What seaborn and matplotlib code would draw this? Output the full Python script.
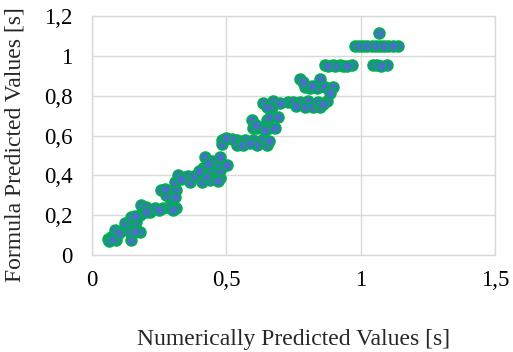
import matplotlib
matplotlib.use("Agg")
import matplotlib.pyplot as plt
from matplotlib.ticker import FuncFormatter
import seaborn as sns
import pandas as pd

# Numerically predicted times [s] and the matching formula predictions [s]
numerical = [
    0.060, 0.071, 0.089, 0.065, 0.080, 0.145,
    0.086, 0.115, 0.141, 0.179, 0.100, 0.160,
    0.123, 0.164, 0.145,
    0.145, 0.179, 0.160,
    0.182, 0.200, 0.216, 0.234, 0.264, 0.290, 0.313, 0.250, 0.300, 0.200,
    0.257, 0.313, 0.290, 0.309, 0.275, 0.270,
    0.309, 0.320, 0.346, 0.365, 0.357, 0.400, 0.447, 0.476, 0.365, 0.409,
    0.439, 0.330, 0.380, 0.425, 0.470,
    0.476, 0.413, 0.439, 0.469, 0.502, 0.420, 0.476, 0.445, 0.430, 0.400,
    0.484, 0.484, 0.540, 0.569, 0.599, 0.633, 0.540, 0.562, 0.614, 0.651,
    0.520, 0.660, 0.590, 0.500,
    0.595, 0.651, 0.599, 0.633, 0.662, 0.692, 0.615, 0.660, 0.680, 0.645, 0.610,
    0.636, 0.674, 0.729, 0.774, 0.804, 0.875, 0.670, 0.793, 0.822, 0.849,
    0.700, 0.750, 0.840, 0.650, 0.760, 0.860,
    0.774, 0.849, 0.793, 0.811, 0.837, 0.867, 0.897, 0.886, 0.820, 0.785,
    0.867, 0.897, 0.923, 0.934, 0.968, 0.904, 0.880, 0.950, 1.046, 1.061,
    1.098, 1.075,
    0.979, 1.009, 1.042, 1.072, 1.100, 1.139, 0.995, 1.025, 1.058, 1.088, 1.120,
    1.068,
]
formula = [
    0.080, 0.090, 0.075, 0.072, 0.082, 0.075,
    0.126, 0.126, 0.115, 0.115, 0.110, 0.120,
    0.160, 0.166, 0.170,
    0.190, 0.200, 0.195,
    0.250, 0.240, 0.216, 0.236, 0.236, 0.236, 0.236, 0.225, 0.225, 0.215,
    0.326, 0.326, 0.286, 0.290, 0.300, 0.330,
    0.366, 0.400, 0.390, 0.387, 0.397, 0.397, 0.390, 0.387, 0.366, 0.366,
    0.376, 0.380, 0.395, 0.395, 0.370,
    0.427, 0.437, 0.437, 0.462, 0.452, 0.490, 0.490, 0.470, 0.455, 0.420,
    0.577, 0.557, 0.577, 0.577, 0.577, 0.577, 0.552, 0.552, 0.552, 0.552,
    0.580, 0.570, 0.560, 0.585,
    0.678, 0.678, 0.638, 0.638, 0.693, 0.693, 0.640, 0.640, 0.640, 0.630, 0.655,
    0.763, 0.773, 0.768, 0.768, 0.773, 0.773, 0.743, 0.743, 0.743, 0.743,
    0.765, 0.770, 0.770, 0.745, 0.750, 0.760,
    0.884, 0.884, 0.843, 0.837, 0.837, 0.843, 0.843, 0.813, 0.850, 0.870,
    0.954, 0.954, 0.954, 0.949, 0.954, 0.949, 0.950, 0.950, 0.954, 0.954,
    0.954, 0.950,
    1.049, 1.049, 1.049, 1.049, 1.049, 1.049, 1.050, 1.050, 1.050, 1.050, 1.050,
    1.114,
]

x_ticks = [0, 0.5, 1, 1.5]
y_ticks = [0, 0.2, 0.4, 0.6, 0.8, 1.0, 1.2]

df = pd.DataFrame({"numerical": numerical, "formula": formula})

sns.set_theme(style="whitegrid")
plt.rcParams["font.family"] = ["Liberation Serif", "DejaVu Serif"]

fig = plt.figure(figsize=(5.13, 3.52), dpi=100)
ax = fig.add_axes([0.1793, 0.2756, 0.7856, 0.6789])

sns.scatterplot(data=df, x="numerical", y="formula", ax=ax,
                color="#4472C4", edgecolor="#00B050", linewidth=1.4,
                s=58, zorder=3, legend=False)

ax.set_xlim(0, 1.5)
ax.set_ylim(0, 1.2)
ax.set_xticks(x_ticks)
ax.set_yticks(y_ticks)

def comma(v, _pos):
    s = f"{v:.1f}".rstrip("0").rstrip(".")
    return s.replace(".", ",")

ax.xaxis.set_major_formatter(FuncFormatter(comma))
ax.yaxis.set_major_formatter(FuncFormatter(comma))

ax.grid(True, color="#D9D9D9", linewidth=1.0)
for side in ["left", "right", "top", "bottom"]:
    ax.spines[side].set_visible(True)
    ax.spines[side].set_color("#D9D9D9")
    ax.spines[side].set_linewidth(1.0)

ax.tick_params(axis="both", length=0, labelsize=16.5, colors="black")
ax.tick_params(axis="y", pad=14)
ax.tick_params(axis="x", pad=11)

ax.set_xlabel("Numerically Predicted Values [s]", fontsize=17, labelpad=27)
ax.set_ylabel("Formula Predicted Values [s]", fontsize=17)
ax.yaxis.set_label_coords(-0.166, 0.46)

fig.savefig("out.png", dpi=100)
